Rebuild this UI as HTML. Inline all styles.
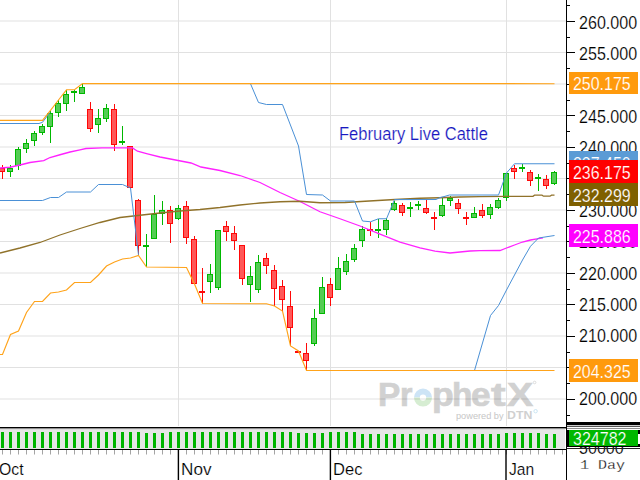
<!DOCTYPE html>
<html><head><meta charset="utf-8"><title>February Live Cattle</title>
<style>
html,body{margin:0;padding:0;background:#fff;}
body{width:640px;height:480px;position:relative;overflow:hidden;font-family:"Liberation Sans",sans-serif;}
.t{position:absolute;white-space:nowrap;transform-origin:0 50%;line-height:1;}
.ax{font-size:18px;color:#000;-webkit-text-stroke:0.18px #fff;left:578.7px;transform:scaleX(0.893);}
.bx{position:absolute;left:569px;width:69px;height:23px;}
.bt{font-size:18px;color:#fff;left:572.7px;transform:scaleX(0.886);}
</style></head><body>
<div class="t" style="left:378.11px;top:377.3px;font-size:34px;font-weight:bold;color:#d1d1d1;-webkit-text-stroke:0.7px #d1d1d1;transform-origin:0 0;transform:scaleX(0.983)">P</div>
<div class="t" style="left:400.00px;top:377.3px;font-size:34px;font-weight:bold;color:#d1d1d1;-webkit-text-stroke:0.7px #d1d1d1;transform-origin:0 0;transform:scaleX(0.941)">r</div>
<div class="t" style="left:431.78px;top:377.3px;font-size:34px;font-weight:bold;color:#d1d1d1;-webkit-text-stroke:0.7px #d1d1d1;transform-origin:0 0;transform:scaleX(1.044)">p</div>
<div class="t" style="left:452.16px;top:377.3px;font-size:34px;font-weight:bold;color:#d1d1d1;-webkit-text-stroke:0.7px #d1d1d1;transform-origin:0 0;transform:scaleX(0.985)">h</div>
<div class="t" style="left:471.30px;top:377.3px;font-size:34px;font-weight:bold;color:#d1d1d1;-webkit-text-stroke:0.7px #d1d1d1;transform-origin:0 0;transform:scaleX(1.035)">e</div>
<div class="t" style="left:490.50px;top:377.3px;font-size:34px;font-weight:bold;color:#d1d1d1;-webkit-text-stroke:0.7px #d1d1d1;transform-origin:0 0;transform:scaleX(1.294)">t</div>
<div class="t" style="left:506.77px;top:377.3px;font-size:34px;font-weight:bold;color:#d1d1d1;-webkit-text-stroke:0.7px #d1d1d1;transform-origin:0 0;transform:scaleX(1.153)">X</div>
<svg width="640" height="480" viewBox="0 0 640 480" style="position:absolute;left:0;top:0">
<path d="M416.9,397.6 A6.1,6.1 0 0 1 429.1,397.6" fill="none" stroke="#cde4f6" stroke-width="5.8"/>
<path d="M416.9,397.6 A6.1,6.1 0 0 0 429.1,397.6" fill="none" stroke="#d6edd2" stroke-width="5.8"/>
<circle cx="535.6" cy="411.2" r="1.7" fill="none" stroke="#c4e2f0" stroke-width="0.9"/>
<circle cx="534.6" cy="382.5" r="1.3" fill="none" stroke="#d4d4d4" stroke-width="0.8"/>
</svg>
<div class="t" style="left:455.7px;top:412.2px;font-size:9.3px;color:#c6c6c6;transform-origin:0 0;transform:scaleX(0.99)">powered by</div>
<div class="t" style="left:507.3px;top:409.6px;font-size:11.2px;font-weight:bold;color:#d0d0d0;transform-origin:0 0;transform:scaleX(1.1)">DTN</div>
<svg width="640" height="480" viewBox="0 0 640 480" style="position:absolute;left:0;top:0">
<g opacity="0.115" fill="#000">
<rect x="0" y="20.5" width="566" height="1"/>
<rect x="0" y="52" width="566" height="1"/>
<rect x="0" y="83.5" width="566" height="1"/>
<rect x="0" y="115" width="566" height="1"/>
<rect x="0" y="146.5" width="566" height="1"/>
<rect x="0" y="178" width="566" height="1"/>
<rect x="0" y="209.5" width="566" height="1"/>
<rect x="0" y="241" width="566" height="1"/>
<rect x="0" y="272.5" width="566" height="1"/>
<rect x="0" y="304" width="566" height="1"/>
<rect x="0" y="335.5" width="566" height="1"/>
<rect x="0" y="367" width="566" height="1"/>
<rect x="0" y="398.5" width="566" height="1"/>
<rect x="178" y="0" width="1" height="426"/>
<rect x="330" y="0" width="1" height="426"/>
<rect x="506" y="0" width="1" height="426"/>
</g>
<!--WM-->
<rect x="2" y="165" width="1" height="14" fill="#ff0808"/>
<rect x="-1" y="168" width="6" height="4" fill="#ff0808"/>
<rect x="0" y="169" width="4" height="2" fill="#ff5858"/>
<rect x="10" y="165" width="1" height="12" fill="#00b800"/>
<rect x="7" y="168" width="6" height="4" fill="#00b800"/>
<rect x="8" y="169" width="4" height="2" fill="#55cc55"/>
<rect x="18" y="147" width="1" height="23" fill="#00b800"/>
<rect x="15" y="149" width="6" height="17" fill="#00b800"/>
<rect x="16" y="150" width="4" height="15" fill="#55cc55"/>
<rect x="26" y="139" width="1" height="14" fill="#00b800"/>
<rect x="23" y="143" width="6" height="6" fill="#00b800"/>
<rect x="24" y="144" width="4" height="4" fill="#55cc55"/>
<rect x="34" y="131" width="1" height="15" fill="#00b800"/>
<rect x="31" y="133" width="6" height="8" fill="#00b800"/>
<rect x="32" y="134" width="4" height="6" fill="#55cc55"/>
<rect x="42" y="124" width="1" height="11" fill="#00b800"/>
<rect x="39" y="126" width="6" height="7" fill="#00b800"/>
<rect x="40" y="127" width="4" height="5" fill="#55cc55"/>
<rect x="50" y="111" width="1" height="32" fill="#00b800"/>
<rect x="47" y="113" width="6" height="14" fill="#00b800"/>
<rect x="48" y="114" width="4" height="12" fill="#55cc55"/>
<rect x="58" y="100" width="1" height="17" fill="#00b800"/>
<rect x="55" y="103" width="6" height="10" fill="#00b800"/>
<rect x="56" y="104" width="4" height="8" fill="#55cc55"/>
<rect x="66" y="90" width="1" height="21" fill="#00b800"/>
<rect x="63" y="94" width="6" height="10" fill="#00b800"/>
<rect x="64" y="95" width="4" height="8" fill="#55cc55"/>
<rect x="74" y="90" width="1" height="12" fill="#00b800"/>
<rect x="71" y="91" width="6" height="2" fill="#00b800"/>
<rect x="82" y="84" width="1" height="10" fill="#00b800"/>
<rect x="79" y="87" width="6" height="7" fill="#00b800"/>
<rect x="80" y="88" width="4" height="5" fill="#55cc55"/>
<rect x="90" y="102" width="1" height="30" fill="#ff0808"/>
<rect x="87" y="109" width="6" height="20" fill="#ff0808"/>
<rect x="88" y="110" width="4" height="18" fill="#ff5858"/>
<rect x="98" y="109" width="1" height="24" fill="#00b800"/>
<rect x="95" y="118" width="6" height="7" fill="#00b800"/>
<rect x="96" y="119" width="4" height="5" fill="#55cc55"/>
<rect x="106" y="104" width="1" height="18" fill="#00b800"/>
<rect x="103" y="108" width="6" height="11" fill="#00b800"/>
<rect x="104" y="109" width="4" height="9" fill="#55cc55"/>
<rect x="114" y="104" width="1" height="47" fill="#ff0808"/>
<rect x="111" y="109" width="6" height="36" fill="#ff0808"/>
<rect x="112" y="110" width="4" height="34" fill="#ff5858"/>
<rect x="122" y="126" width="1" height="19" fill="#00b800"/>
<rect x="119" y="141" width="6" height="2" fill="#00b800"/>
<rect x="130" y="146" width="1" height="42" fill="#ff0808"/>
<rect x="127" y="146" width="6" height="42" fill="#ff0808"/>
<rect x="128" y="147" width="4" height="40" fill="#ff5858"/>
<rect x="138" y="199" width="1" height="56" fill="#ff0808"/>
<rect x="135" y="200" width="6" height="46" fill="#ff0808"/>
<rect x="136" y="201" width="4" height="44" fill="#ff5858"/>
<rect x="146" y="234" width="1" height="33" fill="#00b800"/>
<rect x="143" y="245" width="6" height="2" fill="#00b800"/>
<rect x="154" y="195" width="1" height="44" fill="#00b800"/>
<rect x="151" y="214" width="6" height="25" fill="#00b800"/>
<rect x="152" y="215" width="4" height="23" fill="#55cc55"/>
<rect x="162" y="201" width="1" height="24" fill="#00b800"/>
<rect x="159" y="210" width="6" height="4" fill="#00b800"/>
<rect x="160" y="211" width="4" height="2" fill="#55cc55"/>
<rect x="170" y="206" width="1" height="37" fill="#ff0808"/>
<rect x="167" y="210" width="6" height="14" fill="#ff0808"/>
<rect x="168" y="211" width="4" height="12" fill="#ff5858"/>
<rect x="178" y="205" width="1" height="15" fill="#00b800"/>
<rect x="175" y="208" width="6" height="11" fill="#00b800"/>
<rect x="176" y="209" width="4" height="9" fill="#55cc55"/>
<rect x="186" y="201" width="1" height="43" fill="#ff0808"/>
<rect x="183" y="206" width="6" height="32" fill="#ff0808"/>
<rect x="184" y="207" width="4" height="30" fill="#ff5858"/>
<rect x="194" y="236" width="1" height="48" fill="#ff0808"/>
<rect x="191" y="239" width="6" height="45" fill="#ff0808"/>
<rect x="192" y="240" width="4" height="43" fill="#ff5858"/>
<rect x="202" y="268" width="1" height="35" fill="#ff0808"/>
<rect x="199" y="291" width="6" height="2" fill="#ff0808"/>
<rect x="210" y="264" width="1" height="29" fill="#00b800"/>
<rect x="207" y="274" width="6" height="8" fill="#00b800"/>
<rect x="208" y="275" width="4" height="6" fill="#55cc55"/>
<rect x="218" y="230" width="1" height="60" fill="#00b800"/>
<rect x="215" y="230" width="6" height="58" fill="#00b800"/>
<rect x="216" y="231" width="4" height="56" fill="#55cc55"/>
<rect x="226" y="221" width="1" height="20" fill="#ff0808"/>
<rect x="223" y="226" width="6" height="6" fill="#ff0808"/>
<rect x="224" y="227" width="4" height="4" fill="#ff5858"/>
<rect x="234" y="226" width="1" height="24" fill="#ff0808"/>
<rect x="231" y="233" width="6" height="8" fill="#ff0808"/>
<rect x="232" y="234" width="4" height="6" fill="#ff5858"/>
<rect x="242" y="245" width="1" height="40" fill="#ff0808"/>
<rect x="239" y="245" width="6" height="34" fill="#ff0808"/>
<rect x="240" y="246" width="4" height="32" fill="#ff5858"/>
<rect x="250" y="266" width="1" height="36" fill="#00b800"/>
<rect x="247" y="276" width="6" height="9" fill="#00b800"/>
<rect x="248" y="277" width="4" height="7" fill="#55cc55"/>
<rect x="258" y="255" width="1" height="38" fill="#00b800"/>
<rect x="255" y="262" width="6" height="28" fill="#00b800"/>
<rect x="256" y="263" width="4" height="26" fill="#55cc55"/>
<rect x="266" y="253" width="1" height="21" fill="#ff0808"/>
<rect x="263" y="258" width="6" height="8" fill="#ff0808"/>
<rect x="264" y="259" width="4" height="6" fill="#ff5858"/>
<rect x="274" y="265" width="1" height="41" fill="#ff0808"/>
<rect x="271" y="270" width="6" height="19" fill="#ff0808"/>
<rect x="272" y="271" width="4" height="17" fill="#ff5858"/>
<rect x="282" y="280" width="1" height="31" fill="#ff0808"/>
<rect x="279" y="286" width="6" height="14" fill="#ff0808"/>
<rect x="280" y="287" width="4" height="12" fill="#ff5858"/>
<rect x="290" y="291" width="1" height="55" fill="#ff0808"/>
<rect x="287" y="306" width="6" height="22" fill="#ff0808"/>
<rect x="288" y="307" width="4" height="20" fill="#ff5858"/>
<rect x="298" y="351" width="1" height="2" fill="#ff0808"/>
<rect x="295" y="351" width="6" height="2" fill="#ff0808"/>
<rect x="306" y="343" width="1" height="27" fill="#ff0808"/>
<rect x="303" y="353" width="6" height="8" fill="#ff0808"/>
<rect x="304" y="354" width="4" height="6" fill="#ff5858"/>
<rect x="314" y="309" width="1" height="37" fill="#00b800"/>
<rect x="311" y="318" width="6" height="26" fill="#00b800"/>
<rect x="312" y="319" width="4" height="24" fill="#55cc55"/>
<rect x="322" y="277" width="1" height="37" fill="#00b800"/>
<rect x="319" y="287" width="6" height="27" fill="#00b800"/>
<rect x="320" y="288" width="4" height="25" fill="#55cc55"/>
<rect x="330" y="278" width="1" height="28" fill="#ff0808"/>
<rect x="327" y="284" width="6" height="14" fill="#ff0808"/>
<rect x="328" y="285" width="4" height="12" fill="#ff5858"/>
<rect x="338" y="257" width="1" height="33" fill="#00b800"/>
<rect x="335" y="268" width="6" height="22" fill="#00b800"/>
<rect x="336" y="269" width="4" height="20" fill="#55cc55"/>
<rect x="346" y="254" width="1" height="21" fill="#00b800"/>
<rect x="343" y="261" width="6" height="11" fill="#00b800"/>
<rect x="344" y="262" width="4" height="9" fill="#55cc55"/>
<rect x="354" y="244" width="1" height="18" fill="#00b800"/>
<rect x="351" y="248" width="6" height="12" fill="#00b800"/>
<rect x="352" y="249" width="4" height="10" fill="#55cc55"/>
<rect x="362" y="226" width="1" height="21" fill="#00b800"/>
<rect x="359" y="229" width="6" height="12" fill="#00b800"/>
<rect x="360" y="230" width="4" height="10" fill="#55cc55"/>
<rect x="370" y="222" width="1" height="14" fill="#ff0808"/>
<rect x="367" y="229" width="6" height="2" fill="#ff0808"/>
<rect x="378" y="219" width="1" height="19" fill="#00b800"/>
<rect x="375" y="229" width="6" height="2" fill="#00b800"/>
<rect x="386" y="218" width="1" height="17" fill="#00b800"/>
<rect x="383" y="220" width="6" height="10" fill="#00b800"/>
<rect x="384" y="221" width="4" height="8" fill="#55cc55"/>
<rect x="394" y="201" width="1" height="10" fill="#00b800"/>
<rect x="391" y="203" width="6" height="7" fill="#00b800"/>
<rect x="392" y="204" width="4" height="5" fill="#55cc55"/>
<rect x="402" y="203" width="1" height="13" fill="#ff0808"/>
<rect x="399" y="205" width="6" height="8" fill="#ff0808"/>
<rect x="400" y="206" width="4" height="6" fill="#ff5858"/>
<rect x="410" y="202" width="1" height="15" fill="#00b800"/>
<rect x="407" y="207" width="6" height="2" fill="#00b800"/>
<rect x="418" y="201" width="1" height="9" fill="#00b800"/>
<rect x="415" y="204" width="6" height="2" fill="#00b800"/>
<rect x="426" y="200" width="1" height="14" fill="#ff0808"/>
<rect x="423" y="208" width="6" height="5" fill="#ff0808"/>
<rect x="424" y="209" width="4" height="3" fill="#ff5858"/>
<rect x="434" y="212" width="1" height="18" fill="#ff0808"/>
<rect x="431" y="217" width="6" height="2" fill="#ff0808"/>
<rect x="442" y="197" width="1" height="20" fill="#00b800"/>
<rect x="439" y="205" width="6" height="11" fill="#00b800"/>
<rect x="440" y="206" width="4" height="9" fill="#55cc55"/>
<rect x="450" y="196" width="1" height="10" fill="#00b800"/>
<rect x="447" y="198" width="6" height="3" fill="#00b800"/>
<rect x="448" y="199" width="4" height="1" fill="#55cc55"/>
<rect x="458" y="199" width="1" height="15" fill="#ff0808"/>
<rect x="455" y="203" width="6" height="6" fill="#ff0808"/>
<rect x="456" y="204" width="4" height="4" fill="#ff5858"/>
<rect x="466" y="212" width="1" height="13" fill="#ff0808"/>
<rect x="463" y="217" width="6" height="2" fill="#ff0808"/>
<rect x="474" y="207" width="1" height="11" fill="#00b800"/>
<rect x="471" y="213" width="6" height="5" fill="#00b800"/>
<rect x="472" y="214" width="4" height="3" fill="#55cc55"/>
<rect x="482" y="204" width="1" height="14" fill="#ff0808"/>
<rect x="479" y="210" width="6" height="6" fill="#ff0808"/>
<rect x="480" y="211" width="4" height="4" fill="#ff5858"/>
<rect x="490" y="204" width="1" height="15" fill="#00b800"/>
<rect x="487" y="207" width="6" height="8" fill="#00b800"/>
<rect x="488" y="208" width="4" height="6" fill="#55cc55"/>
<rect x="498" y="198" width="1" height="11" fill="#00b800"/>
<rect x="495" y="200" width="6" height="8" fill="#00b800"/>
<rect x="496" y="201" width="4" height="6" fill="#55cc55"/>
<rect x="506" y="173" width="1" height="28" fill="#00b800"/>
<rect x="503" y="173" width="6" height="25" fill="#00b800"/>
<rect x="504" y="174" width="4" height="23" fill="#55cc55"/>
<rect x="514" y="165" width="1" height="14" fill="#ff0808"/>
<rect x="511" y="168" width="6" height="4" fill="#ff0808"/>
<rect x="512" y="169" width="4" height="2" fill="#ff5858"/>
<rect x="522" y="164" width="1" height="8" fill="#00b800"/>
<rect x="519" y="167" width="6" height="2" fill="#00b800"/>
<rect x="530" y="170" width="1" height="16" fill="#ff0808"/>
<rect x="527" y="172" width="6" height="9" fill="#ff0808"/>
<rect x="528" y="173" width="4" height="7" fill="#ff5858"/>
<rect x="538" y="174" width="1" height="17" fill="#00b800"/>
<rect x="535" y="177" width="6" height="2" fill="#00b800"/>
<rect x="546" y="175" width="1" height="14" fill="#ff0808"/>
<rect x="543" y="179" width="6" height="7" fill="#ff0808"/>
<rect x="544" y="180" width="4" height="5" fill="#ff5858"/>
<rect x="554" y="171" width="1" height="14" fill="#00b800"/>
<rect x="551" y="172" width="6" height="12" fill="#00b800"/>
<rect x="552" y="173" width="4" height="10" fill="#55cc55"/>
<polyline points="0,168 10,167.25 20,165 30,162.5 43.75,160.6 50,157.5 60,154.75 70,152 80,149.8 86,148.5 102,147.9 132.5,147.9 137.5,151.2 147.5,153.8 160,157 191,163 201,167 220,170.5 240,175.5 260,182.5 280,192.5 300,201.5 320,211.75 340,218.75 360,226 380,234.2 400,242.2 420,247.8 435,251.2 450,253 460,252 470,251 480,250.6 500,250.5 506.5,248 514.5,245 522.5,242 530.5,240 538.5,238.6 543,237.9" fill="none" stroke="#ff22ff" stroke-width="1.3"/>
<polyline points="0,253 20,248 40,242.5 60,235 80,228.5 100,222.5 120,217.5 140,215.25 160,213 180,211 200,209.5 220,207.5 240,205 260,203 280,201.75 300,201.25 320,202.75 345,202.5 365,201.25 395,199.5 420,198.25 440,197.75 460,197 480,196.6 506,196.3 533,196.3 534.5,195.2 542,195.2 543.5,196.2 550,196.2 551.5,195.2 554.5,195.2" fill="none" stroke="#90722a" stroke-width="1.3"/>
<polyline points="0,123.5 39,123.5 42.5,122.3 50,112.3" fill="none" stroke="#4a90d6" stroke-width="1"/>
<polyline points="0,200.5 42.5,200.5 50.5,197.5 58.5,197.5 66.5,192 90.5,192 98.5,184.5 122.5,184.5 130.5,188 138.5,255" fill="none" stroke="#4a90d6" stroke-width="1"/>
<polyline points="250.5,83.75 258.5,102.5 266.5,104.5 282.5,104.5 298.5,146 306.5,194.5 322.5,195 330.5,201 354.5,201 362.5,221 370.5,221.75 378.5,218.75 386.5,218.75 394.5,199.6 436,199.5 440,197.5 444,196.6 449.5,195 498.5,195 506.5,173 514.5,163.75 554.5,163.75" fill="none" stroke="#4a90d6" stroke-width="1"/>
<polyline points="474.5,370.5 482.5,343 490.5,315.5 498.5,305.5 506.5,290 514.5,275 522.5,260 530.5,246.25 538.5,238 554.5,235.5" fill="none" stroke="#4a90d6" stroke-width="1"/>
<polyline points="0,120.4 42.5,120.4 50.5,110.4 58.5,100 66.5,89.8 74.5,89.7 82.5,83.6 554.5,83.7" fill="none" stroke="#ffa31a" stroke-width="1.15"/>
<polyline points="0,354.5 2.5,354.5 10.5,334.5 18.5,331 26.5,312.5 34.5,301.5 42.5,301.5 50.5,293 58.5,292 66.5,290 74.5,282.5 90.5,282.5 98.5,275 106.5,266 114.5,262 122.5,259 130.5,258 138.5,255.5 146.5,267 186.5,267.5 194.5,284 202.5,303.5 266.5,303.75 274.5,306 282.5,311 290.5,346 298.5,351 306.5,370.5 554.5,370.5" fill="none" stroke="#ffa31a" stroke-width="1.15"/>
<rect x="0" y="427" width="566" height="1" fill="#000"/>
<rect x="0" y="428" width="640" height="1" fill="#909090"/>
<rect x="0" y="429" width="565" height="1" fill="#dcdcdc"/>
<rect x="0" y="430" width="565" height="19" fill="#e6e6e6"/>
<rect x="1" y="432" width="3" height="16" fill="#00b400"/>
<rect x="9" y="432" width="3" height="16" fill="#00b400"/>
<rect x="17" y="432" width="3" height="16" fill="#00b400"/>
<rect x="25" y="432" width="3" height="16" fill="#00b400"/>
<rect x="33" y="432" width="3" height="16" fill="#00b400"/>
<rect x="41" y="432" width="3" height="16" fill="#00b400"/>
<rect x="49" y="432" width="3" height="16" fill="#00b400"/>
<rect x="57" y="432" width="3" height="16" fill="#00b400"/>
<rect x="65" y="432" width="3" height="16" fill="#00b400"/>
<rect x="73" y="432" width="3" height="16" fill="#00b400"/>
<rect x="81" y="432" width="3" height="16" fill="#00b400"/>
<rect x="89" y="432" width="3" height="16" fill="#00b400"/>
<rect x="97" y="432" width="3" height="16" fill="#00b400"/>
<rect x="105" y="432" width="3" height="16" fill="#00b400"/>
<rect x="113" y="432" width="3" height="16" fill="#00b400"/>
<rect x="121" y="432" width="3" height="16" fill="#00b400"/>
<rect x="129" y="432" width="3" height="16" fill="#00b400"/>
<rect x="137" y="432" width="3" height="16" fill="#00b400"/>
<rect x="145" y="433" width="3" height="15" fill="#00b400"/>
<rect x="153" y="433" width="3" height="15" fill="#00b400"/>
<rect x="161" y="433" width="3" height="15" fill="#00b400"/>
<rect x="169" y="432" width="3" height="16" fill="#00b400"/>
<rect x="177" y="432" width="3" height="16" fill="#00b400"/>
<rect x="185" y="432" width="3" height="16" fill="#00b400"/>
<rect x="193" y="432" width="3" height="16" fill="#00b400"/>
<rect x="201" y="432" width="3" height="16" fill="#00b400"/>
<rect x="209" y="432" width="3" height="16" fill="#00b400"/>
<rect x="217" y="432" width="3" height="16" fill="#00b400"/>
<rect x="225" y="432" width="3" height="16" fill="#00b400"/>
<rect x="233" y="432" width="3" height="16" fill="#00b400"/>
<rect x="241" y="432" width="3" height="16" fill="#00b400"/>
<rect x="249" y="432" width="3" height="16" fill="#00b400"/>
<rect x="257" y="432" width="3" height="16" fill="#00b400"/>
<rect x="265" y="432" width="3" height="16" fill="#00b400"/>
<rect x="273" y="432" width="3" height="16" fill="#00b400"/>
<rect x="281" y="432" width="3" height="16" fill="#00b400"/>
<rect x="289" y="432" width="3" height="16" fill="#00b400"/>
<rect x="297" y="433" width="3" height="15" fill="#00b400"/>
<rect x="305" y="433" width="3" height="15" fill="#00b400"/>
<rect x="313" y="433" width="3" height="15" fill="#00b400"/>
<rect x="321" y="433" width="3" height="15" fill="#00b400"/>
<rect x="329" y="432" width="3" height="16" fill="#00b400"/>
<rect x="337" y="432" width="3" height="16" fill="#00b400"/>
<rect x="345" y="432" width="3" height="16" fill="#00b400"/>
<rect x="353" y="432" width="3" height="16" fill="#00b400"/>
<rect x="361" y="434" width="3" height="14" fill="#00b400"/>
<rect x="369" y="434" width="3" height="14" fill="#00b400"/>
<rect x="377" y="434" width="3" height="14" fill="#00b400"/>
<rect x="385" y="434" width="3" height="14" fill="#00b400"/>
<rect x="393" y="434" width="3" height="14" fill="#00b400"/>
<rect x="401" y="434" width="3" height="14" fill="#00b400"/>
<rect x="409" y="434" width="3" height="14" fill="#00b400"/>
<rect x="417" y="434" width="3" height="14" fill="#00b400"/>
<rect x="425" y="434" width="3" height="14" fill="#00b400"/>
<rect x="433" y="434" width="3" height="14" fill="#00b400"/>
<rect x="441" y="434" width="3" height="14" fill="#00b400"/>
<rect x="449" y="434" width="3" height="14" fill="#00b400"/>
<rect x="457" y="434" width="3" height="14" fill="#00b400"/>
<rect x="465" y="434" width="3" height="14" fill="#00b400"/>
<rect x="473" y="434" width="3" height="14" fill="#00b400"/>
<rect x="481" y="434" width="3" height="14" fill="#00b400"/>
<rect x="489" y="434" width="3" height="14" fill="#00b400"/>
<rect x="497" y="434" width="3" height="14" fill="#00b400"/>
<rect x="505" y="433" width="3" height="15" fill="#00b400"/>
<rect x="513" y="433" width="3" height="15" fill="#00b400"/>
<rect x="521" y="433" width="3" height="15" fill="#00b400"/>
<rect x="529" y="433" width="3" height="15" fill="#00b400"/>
<rect x="537" y="433" width="3" height="15" fill="#00b400"/>
<rect x="545" y="434" width="3" height="14" fill="#00b400"/>
<rect x="553" y="434" width="3" height="14" fill="#00b400"/>
<rect x="0" y="449" width="566" height="1" fill="#000"/>
<rect x="2" y="450" width="1" height="4.5" fill="#a4a4a4"/>
<rect x="10" y="450" width="1" height="4.5" fill="#a4a4a4"/>
<rect x="18" y="450" width="1" height="4.5" fill="#a4a4a4"/>
<rect x="26" y="450" width="1" height="4.5" fill="#a4a4a4"/>
<rect x="34" y="450" width="1" height="4.5" fill="#a4a4a4"/>
<rect x="42" y="450" width="1" height="4.5" fill="#a4a4a4"/>
<rect x="50" y="450" width="1" height="4.5" fill="#a4a4a4"/>
<rect x="58" y="450" width="1" height="4.5" fill="#a4a4a4"/>
<rect x="66" y="450" width="1" height="4.5" fill="#a4a4a4"/>
<rect x="74" y="450" width="1" height="4.5" fill="#a4a4a4"/>
<rect x="82" y="450" width="1" height="4.5" fill="#a4a4a4"/>
<rect x="90" y="450" width="1" height="4.5" fill="#a4a4a4"/>
<rect x="98" y="450" width="1" height="4.5" fill="#a4a4a4"/>
<rect x="106" y="450" width="1" height="4.5" fill="#a4a4a4"/>
<rect x="114" y="450" width="1" height="4.5" fill="#a4a4a4"/>
<rect x="122" y="450" width="1" height="4.5" fill="#a4a4a4"/>
<rect x="130" y="450" width="1" height="4.5" fill="#a4a4a4"/>
<rect x="138" y="450" width="1" height="4.5" fill="#a4a4a4"/>
<rect x="146" y="450" width="1" height="4.5" fill="#a4a4a4"/>
<rect x="154" y="450" width="1" height="4.5" fill="#a4a4a4"/>
<rect x="162" y="450" width="1" height="4.5" fill="#a4a4a4"/>
<rect x="170" y="450" width="1" height="4.5" fill="#a4a4a4"/>
<rect x="178" y="450" width="1" height="4.5" fill="#a4a4a4"/>
<rect x="186" y="450" width="1" height="4.5" fill="#a4a4a4"/>
<rect x="194" y="450" width="1" height="4.5" fill="#a4a4a4"/>
<rect x="202" y="450" width="1" height="4.5" fill="#a4a4a4"/>
<rect x="210" y="450" width="1" height="4.5" fill="#a4a4a4"/>
<rect x="218" y="450" width="1" height="4.5" fill="#a4a4a4"/>
<rect x="226" y="450" width="1" height="4.5" fill="#a4a4a4"/>
<rect x="234" y="450" width="1" height="4.5" fill="#a4a4a4"/>
<rect x="242" y="450" width="1" height="4.5" fill="#a4a4a4"/>
<rect x="250" y="450" width="1" height="4.5" fill="#a4a4a4"/>
<rect x="258" y="450" width="1" height="4.5" fill="#a4a4a4"/>
<rect x="266" y="450" width="1" height="4.5" fill="#a4a4a4"/>
<rect x="274" y="450" width="1" height="4.5" fill="#a4a4a4"/>
<rect x="282" y="450" width="1" height="4.5" fill="#a4a4a4"/>
<rect x="290" y="450" width="1" height="4.5" fill="#a4a4a4"/>
<rect x="298" y="450" width="1" height="4.5" fill="#a4a4a4"/>
<rect x="306" y="450" width="1" height="4.5" fill="#a4a4a4"/>
<rect x="314" y="450" width="1" height="4.5" fill="#a4a4a4"/>
<rect x="322" y="450" width="1" height="4.5" fill="#a4a4a4"/>
<rect x="330" y="450" width="1" height="4.5" fill="#a4a4a4"/>
<rect x="338" y="450" width="1" height="4.5" fill="#a4a4a4"/>
<rect x="346" y="450" width="1" height="4.5" fill="#a4a4a4"/>
<rect x="354" y="450" width="1" height="4.5" fill="#a4a4a4"/>
<rect x="362" y="450" width="1" height="4.5" fill="#a4a4a4"/>
<rect x="370" y="450" width="1" height="4.5" fill="#a4a4a4"/>
<rect x="378" y="450" width="1" height="4.5" fill="#a4a4a4"/>
<rect x="386" y="450" width="1" height="4.5" fill="#a4a4a4"/>
<rect x="394" y="450" width="1" height="4.5" fill="#a4a4a4"/>
<rect x="402" y="450" width="1" height="4.5" fill="#a4a4a4"/>
<rect x="410" y="450" width="1" height="4.5" fill="#a4a4a4"/>
<rect x="418" y="450" width="1" height="4.5" fill="#a4a4a4"/>
<rect x="426" y="450" width="1" height="4.5" fill="#a4a4a4"/>
<rect x="434" y="450" width="1" height="4.5" fill="#a4a4a4"/>
<rect x="442" y="450" width="1" height="4.5" fill="#a4a4a4"/>
<rect x="450" y="450" width="1" height="4.5" fill="#a4a4a4"/>
<rect x="458" y="450" width="1" height="4.5" fill="#a4a4a4"/>
<rect x="466" y="450" width="1" height="4.5" fill="#a4a4a4"/>
<rect x="474" y="450" width="1" height="4.5" fill="#a4a4a4"/>
<rect x="482" y="450" width="1" height="4.5" fill="#a4a4a4"/>
<rect x="490" y="450" width="1" height="4.5" fill="#a4a4a4"/>
<rect x="498" y="450" width="1" height="4.5" fill="#a4a4a4"/>
<rect x="506" y="450" width="1" height="4.5" fill="#a4a4a4"/>
<rect x="514" y="450" width="1" height="4.5" fill="#a4a4a4"/>
<rect x="522" y="450" width="1" height="4.5" fill="#a4a4a4"/>
<rect x="530" y="450" width="1" height="4.5" fill="#a4a4a4"/>
<rect x="538" y="450" width="1" height="4.5" fill="#a4a4a4"/>
<rect x="546" y="450" width="1" height="4.5" fill="#a4a4a4"/>
<rect x="554" y="450" width="1" height="4.5" fill="#a4a4a4"/>
<rect x="562" y="450" width="1" height="4.5" fill="#a4a4a4"/>
<rect x="177.7" y="449" width="1.4" height="31" fill="#000"/>
<rect x="329.7" y="449" width="1.4" height="31" fill="#000"/>
<rect x="505.3" y="449" width="1.4" height="31" fill="#000"/>
<rect x="566" y="0" width="1" height="480" fill="#000"/>
<rect x="567" y="21" width="8" height="1" fill="#000"/>
<rect x="567" y="52" width="8" height="1" fill="#000"/>
<rect x="567" y="84" width="8" height="1" fill="#000"/>
<rect x="567" y="115" width="8" height="1" fill="#000"/>
<rect x="567" y="147" width="8" height="1" fill="#000"/>
<rect x="567" y="178" width="8" height="1" fill="#000"/>
<rect x="567" y="210" width="8" height="1" fill="#000"/>
<rect x="567" y="241" width="8" height="1" fill="#000"/>
<rect x="567" y="273" width="8" height="1" fill="#000"/>
<rect x="567" y="304" width="8" height="1" fill="#000"/>
<rect x="567" y="336" width="8" height="1" fill="#000"/>
<rect x="567" y="367" width="8" height="1" fill="#000"/>
<rect x="567" y="399" width="8" height="1" fill="#000"/>
<rect x="567" y="5" width="3" height="1" fill="#000"/>
<rect x="567" y="37" width="3" height="1" fill="#000"/>
<rect x="567" y="68" width="3" height="1" fill="#000"/>
<rect x="567" y="100" width="3" height="1" fill="#000"/>
<rect x="567" y="131" width="3" height="1" fill="#000"/>
<rect x="567" y="163" width="3" height="1" fill="#000"/>
<rect x="567" y="194" width="3" height="1" fill="#000"/>
<rect x="567" y="226" width="3" height="1" fill="#000"/>
<rect x="567" y="257" width="3" height="1" fill="#000"/>
<rect x="567" y="289" width="3" height="1" fill="#000"/>
<rect x="567" y="320" width="3" height="1" fill="#000"/>
<rect x="567" y="352" width="3" height="1" fill="#000"/>
<rect x="567" y="383" width="3" height="1" fill="#000"/>
<rect x="567" y="415" width="3" height="1" fill="#000"/>
<rect x="567" y="422" width="73" height="3.2" fill="#000"/>
</svg><div class="t ax" style="top:13.8px">260.000</div>
<div class="t ax" style="top:45.2px">255.000</div>
<div class="t ax" style="top:76.5px">250.000</div>
<div class="t ax" style="top:107.9px">245.000</div>
<div class="t ax" style="top:139.2px">240.000</div>
<div class="t ax" style="top:170.6px">235.000</div>
<div class="t ax" style="top:202.0px">230.000</div>
<div class="t ax" style="top:233.3px">225.000</div>
<div class="t ax" style="top:264.7px">220.000</div>
<div class="t ax" style="top:296.0px">215.000</div>
<div class="t ax" style="top:327.4px">210.000</div>
<div class="t ax" style="top:358.8px">205.000</div>
<div class="t ax" style="top:390.1px">200.000</div>
<div class="t ax" style="top:438.8px;left:579.3px">50000</div>
<div class="bx" style="top:71.6px;height:22.8px;background:#ff9a0d"></div>
<div class="t bt" style="top:75.4px;-webkit-text-stroke:0.18px #ff9a0d">250.175</div>
<div class="bx" style="top:151.4px;height:22.8px;background:#5b9bd5"></div>
<div class="t bt" style="top:155.2px;-webkit-text-stroke:0.18px #5b9bd5">237.450</div>
<div class="bx" style="top:183.2px;height:22.8px;background:#7f6000"></div>
<div class="t bt" style="top:187.0px;-webkit-text-stroke:0.18px #7f6000">232.299</div>
<div class="bx" style="top:159.7px;height:23.8px;background:#ff0000"></div>
<div class="t bt" style="top:163.5px;-webkit-text-stroke:0.18px #ff0000">236.175</div>
<div class="bx" style="top:224.0px;height:22.8px;background:#ff00ff"></div>
<div class="t bt" style="top:227.8px;-webkit-text-stroke:0.18px #ff00ff">225.886</div>
<div class="bx" style="top:359.2px;height:22.8px;background:#ff9a0d"></div>
<div class="t bt" style="top:363.0px;-webkit-text-stroke:0.18px #ff9a0d">204.325</div>
<div style="position:absolute;left:567px;top:429.6px;width:73px;height:17.5px;background:#000"></div><div style="position:absolute;left:567px;top:426px;width:73px;height:0.8px;background:#555"></div><div style="position:absolute;left:567px;top:448px;width:73px;height:0.8px;background:#222"></div>
<div style="position:absolute;left:629px;top:434px;width:11px;height:10px;background:#fff"></div>
<div style="position:absolute;left:569px;top:429.8px;width:69px;height:16.2px;background:#00b800"></div>
<div class="t bt" style="top:429.5px;left:573px;transform:scaleX(0.89);-webkit-text-stroke:0.18px #00b800">324782</div>
<div class="t" style="left:580.1px;top:458.1px;font-family:'Liberation Mono',monospace;font-size:15px;color:#000;-webkit-text-stroke:0.3px #fff;transform:scaleY(0.9)">1 Day</div>
<div class="t" style="left:338.7px;top:125.5px;font-size:17.5px;color:#1818c0;-webkit-text-stroke:0.18px #fff;transform:scaleX(0.945)">February Live Cattle</div>
<div class="t" style="left:-1px;top:461px;font-size:17px;color:#000;-webkit-text-stroke:0.18px #fff;transform:scaleX(0.93)">Oct</div>
<div class="t" style="left:181.2px;top:461px;font-size:17px;color:#000;-webkit-text-stroke:0.18px #fff;transform:scaleX(1.01)">Nov</div>
<div class="t" style="left:333.3px;top:461px;font-size:17px;color:#000;-webkit-text-stroke:0.18px #fff;transform:scaleX(0.973)">Dec</div>
<div class="t" style="left:509.4px;top:461px;font-size:17px;color:#000;-webkit-text-stroke:0.18px #fff;transform:scaleX(0.92)">Jan</div>
</body></html>
